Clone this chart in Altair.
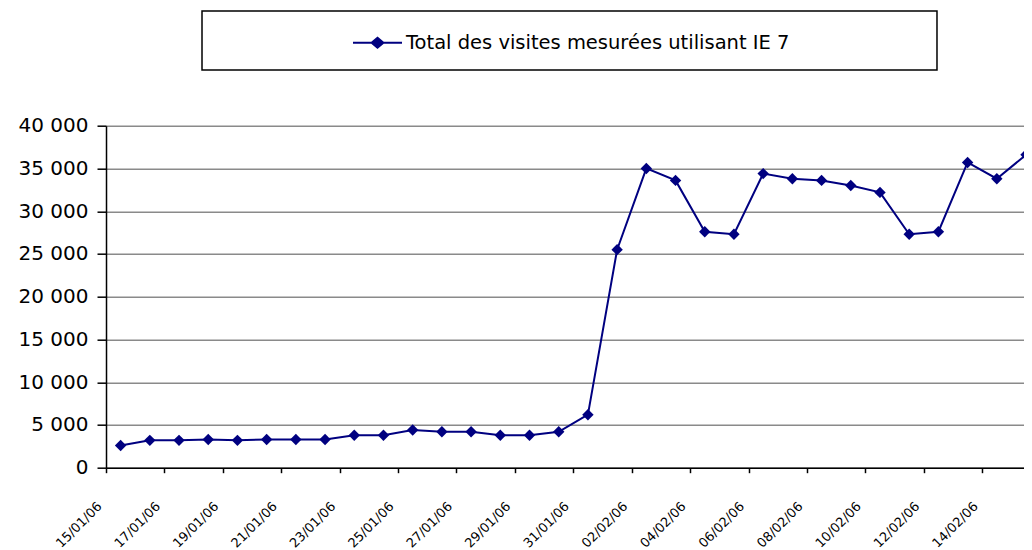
import altair as alt

# ---- data ----
dates = ["15/01/06", "16/01/06", "17/01/06", "18/01/06", "19/01/06", "20/01/06",
         "21/01/06", "22/01/06", "23/01/06", "24/01/06", "25/01/06", "26/01/06",
         "27/01/06", "28/01/06", "29/01/06", "30/01/06", "31/01/06", "01/02/06",
         "02/02/06", "03/02/06", "04/02/06", "05/02/06", "06/02/06", "07/02/06",
         "08/02/06", "09/02/06", "10/02/06", "11/02/06", "12/02/06", "13/02/06",
         "14/02/06", "15/02/06"]
visits = [2600, 3200, 3200, 3300, 3200, 3300, 3300, 3300, 3800, 3800, 4400, 4200,
          4200, 3800, 3800, 4200, 6200, 25500, 35000, 33600, 27600, 27300, 34400,
          33800, 33600, 33000, 32200, 27300, 27600, 35700, 33800, 36600]
series_name = "Total des visites mesurées utilisant IE 7"
tick_labels = ["15/01/06", "17/01/06", "19/01/06", "21/01/06", "23/01/06", "25/01/06",
               "27/01/06", "29/01/06", "31/01/06", "02/02/06", "04/02/06", "06/02/06",
               "08/02/06", "10/02/06", "12/02/06", "14/02/06"]
y_ticks = [0, 5000, 10000, 15000, 20000, 25000, 30000, 35000, 40000]

NAVY = "#000080"

records = [{"date": d, "visites": v, "serie": series_name} for d, v in zip(dates, visits)]
data = alt.InlineData(values=records, format={"parse": {"date": "date:'%d/%m/%y'"}})


def to_dt(s, hours=0, minutes=0):
    return alt.DateTime(year=2000 + int(s[6:8]), month=int(s[3:5]), date=int(s[0:2]),
                        hours=hours, minutes=minutes)


tick_values = [to_dt(s) for s in tick_labels]
# the reference's plot area is cut at the right edge, a little before the last day's centre
x_domain = [to_dt(dates[0]), to_dt(dates[-1], hours=10, minutes=20)]

legend_symbol = "M-1,0H1M0,-0.2L0.24,0L0,0.2L-0.24,0Z"

line = alt.Chart(data).mark_line(
    color=NAVY, strokeWidth=2,
    point=alt.OverlayMarkDef(shape="diamond", size=130, filled=True, color=NAVY, opacity=1),
).encode(
    x=alt.X("date:T", timeUnit="yearmonthdate", bandPosition=0.5,
            scale=alt.Scale(domain=x_domain, nice=False),
            axis=alt.Axis(title=None, values=tick_values, format="%d/%m/%y",
                          labelAngle=315, labelAlign="right", labelBaseline="top",
                          labelFont="DejaVu Sans", labelFontSize=13, labelColor="black",
                          labelPadding=27, labelOffset=-11, labelOverlap=False,
                          tickSize=5, tickColor="black", tickWidth=1.5,
                          domainColor="black", domainWidth=1.5, grid=False)),
    y=alt.Y("visites:Q",
            scale=alt.Scale(domain=[0, 40000], nice=False),
            axis=alt.Axis(title=None, values=y_ticks,
                          labelExpr="replace(format(datum.value, ','), regexp(',', 'g'), ' ')",
                          labelFont="DejaVu Sans", labelFontSize=20, labelColor="black",
                          labelPadding=9, tickSize=9, tickColor="black", tickWidth=1.5,
                          domainColor="black", domainWidth=1.5,
                          grid=True, gridColor="#8a8a8a", gridWidth=1.5)),
    color=alt.Color("serie:N", scale=alt.Scale(range=[NAVY]),
                    legend=alt.Legend(title=None, orient="none", legendX=246, legendY=-108.5,
                                      symbolType=legend_symbol, symbolSize=2401,
                                      symbolStrokeWidth=2, symbolStrokeColor=NAVY,
                                      symbolFillColor=NAVY, labelLimit=600,
                                      labelFont="DejaVu Sans", labelFontSize=19.5,
                                      labelColor="black", labelOffset=3, padding=0)),
)

box = alt.Chart(alt.InlineData(values=[{"b": 1}])).mark_rect(
    fill="white", fillOpacity=0, stroke="black", strokeWidth=1.5
).encode(
    x=alt.value(96), x2=alt.value(831), y=alt.value(-114.7), y2=alt.value(-55.7)
)

chart = alt.layer(box, line).properties(
    width=918, height=342,
    autosize=alt.AutoSizeParams(type="none"),
    padding={"left": 98, "top": 117.7, "right": 0, "bottom": 82},
    background="white",
).configure_view(strokeWidth=0)

chart.save("out.html", embed_options={"renderer": "svg", "actions": False})
